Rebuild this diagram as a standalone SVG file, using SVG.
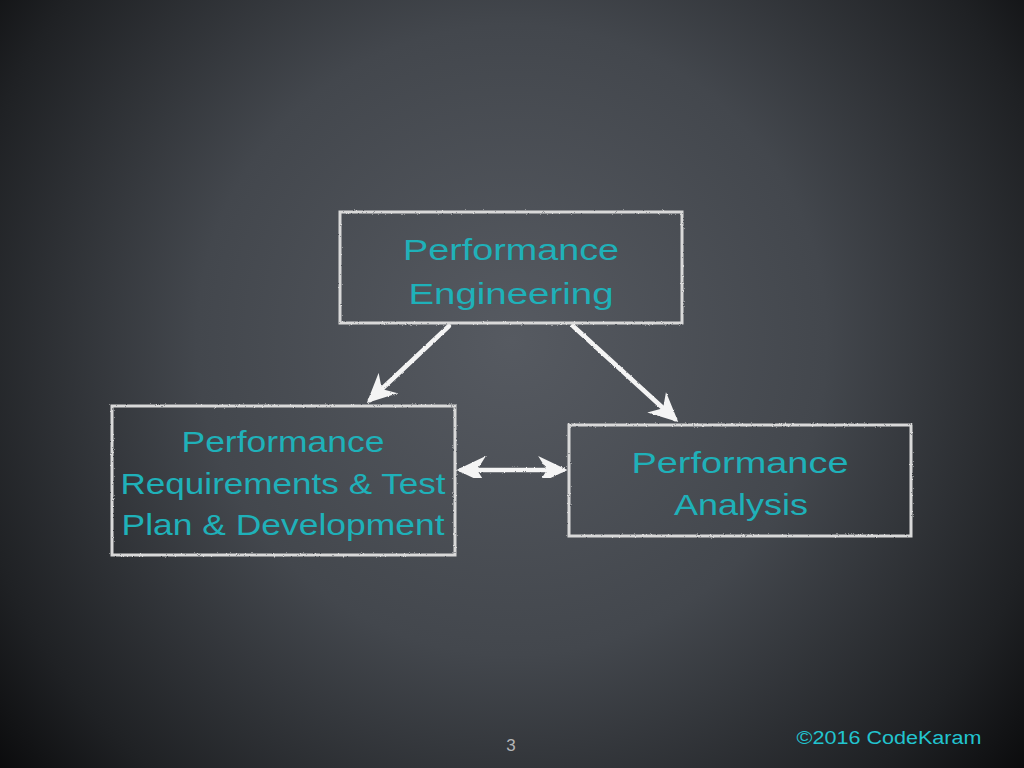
<svg xmlns="http://www.w3.org/2000/svg" width="1024" height="768" viewBox="0 0 1024 768">
  <defs>
    <radialGradient id="bg" cx="512" cy="340" r="700" gradientUnits="userSpaceOnUse">
      <stop offset="0" stop-color="#565a61"/>
      <stop offset="0.45" stop-color="#43474d"/>
      <stop offset="0.8" stop-color="#1f2124"/>
      <stop offset="1" stop-color="#050506"/>
    </radialGradient>
    <filter id="chalk" x="-5%" y="-5%" width="110%" height="110%">
      <feTurbulence type="fractalNoise" baseFrequency="0.9" numOctaves="2" seed="3" result="n"/>
      <feDisplacementMap in="SourceGraphic" in2="n" scale="2.2" xChannelSelector="R" yChannelSelector="G"/>
    </filter>
    <marker id="head" viewBox="0 0 20 20" refX="17" refY="10" markerWidth="6.5" markerHeight="6.5" markerUnits="strokeWidth" orient="auto-start-reverse">
      <path d="M0,0.5 L20,10 L0,19.5 L6,10 Z" fill="#f4f4f4"/>
    </marker>
    <style>
      .box { fill: none; stroke: #d9d9d9; stroke-width: 3; }
      .lbl { font-family: "Comic Sans MS", "Liberation Sans", "DejaVu Sans", sans-serif; font-size: 30px; fill: #1fb1b9; text-anchor: middle; }
      .arr { stroke: #f4f4f4; stroke-width: 4.5; fill: none; stroke-linecap: round; }
    </style>
  </defs>
  <rect width="1024" height="768" fill="url(#bg)"/>

  <g id="connectors" filter="url(#chalk)">
    <line class="arr" x1="449" y1="326" x2="370" y2="400" marker-end="url(#head)"/>
    <line class="arr" x1="573" y1="326" x2="675" y2="419" marker-end="url(#head)"/>
    <line class="arr" x1="461" y1="470" x2="563" y2="470" marker-start="url(#head)" marker-end="url(#head)"/>
  </g>

  <g id="node-engineering">
    <rect class="box" x="340" y="212" width="342" height="111" filter="url(#chalk)"/>
    <text class="lbl" x="511" y="260" textLength="216" lengthAdjust="spacingAndGlyphs">Performance</text>
    <text class="lbl" x="511" y="304" textLength="205" lengthAdjust="spacingAndGlyphs">Engineering</text>
  </g>

  <g id="node-requirements">
    <rect class="box" x="112" y="406" width="343" height="149" filter="url(#chalk)"/>
    <text class="lbl" x="283" y="452" textLength="203" lengthAdjust="spacingAndGlyphs">Performance</text>
    <text class="lbl" x="283" y="494" textLength="325" lengthAdjust="spacingAndGlyphs">Requirements &amp; Test</text>
    <text class="lbl" x="283" y="535" textLength="323" lengthAdjust="spacingAndGlyphs">Plan &amp; Development</text>
  </g>

  <g id="node-analysis">
    <rect class="box" x="569" y="425" width="342" height="111" filter="url(#chalk)"/>
    <text class="lbl" x="740" y="473" textLength="217" lengthAdjust="spacingAndGlyphs">Performance</text>
    <text class="lbl" x="741" y="515" textLength="134" lengthAdjust="spacingAndGlyphs">Analysis</text>
  </g>

  <text x="511" y="751" font-family="Liberation Sans, sans-serif" font-size="17" fill="#b4b6b8" text-anchor="middle">3</text>
  <text x="889" y="744" font-family="Comic Sans MS, Liberation Sans, sans-serif" font-size="18" fill="#22c4cf" text-anchor="middle" textLength="185" lengthAdjust="spacingAndGlyphs">©2016 CodeKaram</text>
</svg>
